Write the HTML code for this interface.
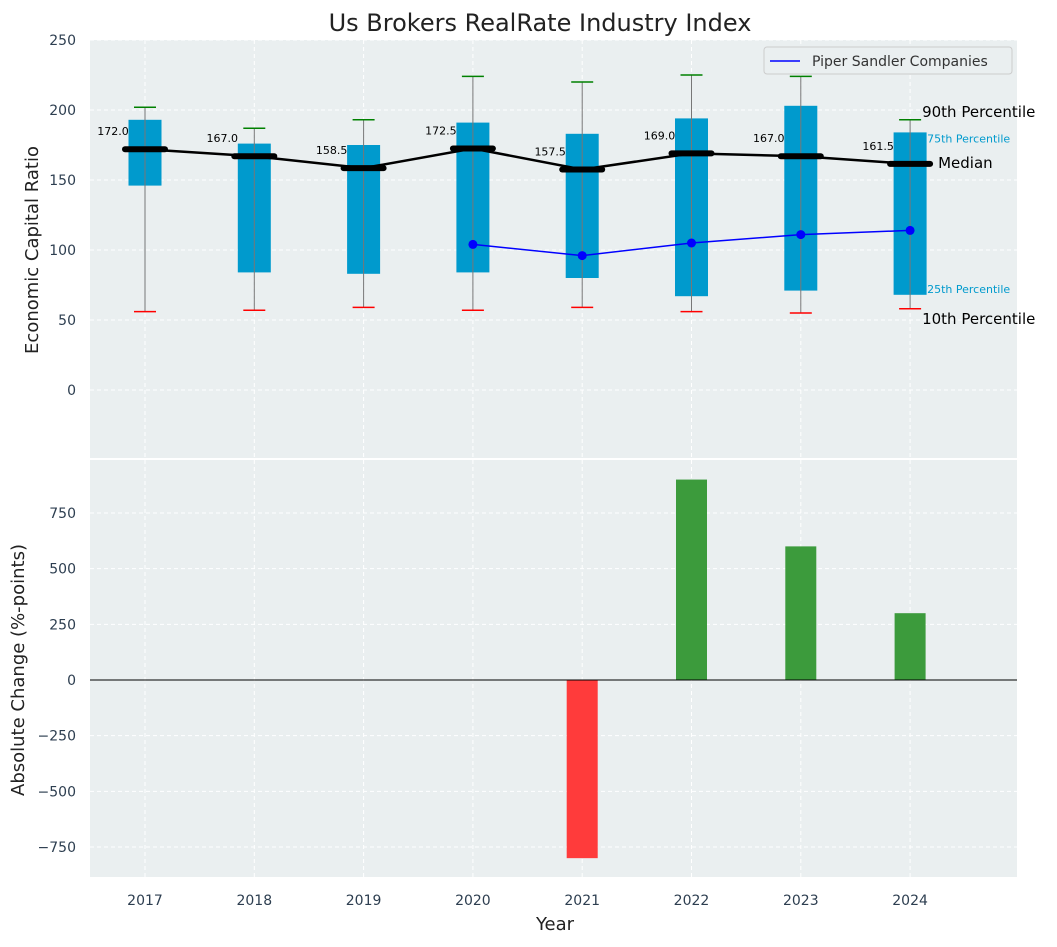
<!DOCTYPE html>
<html><head><meta charset="utf-8"><style>
body{margin:0;background:#fff;font-family:"Liberation Sans","DejaVu Sans",sans-serif}
svg text{font-family:"DejaVu Sans","Liberation Sans",sans-serif}
</style></head><body>
<svg id="c" width="1057" height="942" xmlns="http://www.w3.org/2000/svg"></svg>
<script>
const years=[2017,2018,2019,2020,2021,2022,2023,2024];
const p10=[56,57,59,57,59,56,55,58];
const q1=[146,84,83,84,80,67,71,68];
const medians=[172,167,158.5,172.5,157.5,169,167,161.5];
const q3=[193,176,175,191,183,194,203,184];
const p90=[202,187,193,224,220,225,224,193];
const piperYears=[2020,2021,2022,2023,2024];
const piperVals=[104,96,105,111,114];
const changeYears=[2021,2022,2023,2024];
const changeVals=[-800,900,600,300];
const topTicks=[0,50,100,150,200,250];
const botTicks=[-750,-500,-250,0,250,500,750];

const svg=document.getElementById('c');
const NS='http://www.w3.org/2000/svg';
function mk(t,a,txt){const e=document.createElementNS(NS,t);for(const k in a)e.setAttribute(k,a[k]);if(txt!==undefined)e.textContent=txt;svg.appendChild(e);return e;}
const L=90,R=1017;
const x=v=>145+(v-2017)*109.3;
const yT=v=>390-v*1.4;
const yB=v=>680-v*0.2227;

let e;
e=mk('rect',{x:L,y:40,width:R-L,height:418,fill:'#eaeff0'});

e=mk('rect',{x:L,y:460,width:R-L,height:417,fill:'#eaeff0'});


years.forEach(yr=>{
 mk('line',{x1:x(yr),x2:x(yr),y1:40,y2:458,stroke:'#fff','stroke-dasharray':'4,3'});
 mk('line',{x1:x(yr),x2:x(yr),y1:460,y2:877,stroke:'#fff','stroke-dasharray':'4,3'});
 e=mk('text',{x:x(yr),y:905,'text-anchor':'middle','font-size':14,fill:'#2d3e50'},yr);
 
});
topTicks.forEach(t=>{
 mk('line',{x1:L,x2:R,y1:yT(t),y2:yT(t),stroke:'#fff','stroke-dasharray':'4,3'});
 e=mk('text',{x:76,y:yT(t)+5,'text-anchor':'end','font-size':14,fill:'#2d3e50'},t);
 
});
botTicks.forEach(t=>{
 mk('line',{x1:L,x2:R,y1:yB(t),y2:yB(t),stroke:'#fff','stroke-dasharray':'4,3'});
 e=mk('text',{x:76,y:yB(t)+5,'text-anchor':'end','font-size':14,fill:'#2d3e50'},t.toString().replace('-','−'));
 
});

years.forEach((yr,i)=>{
 const cx=x(yr);
 e=mk('rect',{x:cx-16.5,y:yT(q3[i]),width:33,height:yT(q1[i])-yT(q3[i]),fill:'#009acd'});
 
 e=mk('line',{x1:cx,x2:cx,y1:yT(p10[i]),y2:yT(p90[i]),stroke:'#777','stroke-width':1});
 
 e=mk('line',{x1:cx-11,x2:cx+11,y1:yT(p90[i]),y2:yT(p90[i]),stroke:'green','stroke-width':1.5});
 
 e=mk('line',{x1:cx-11,x2:cx+11,y1:yT(p10[i]),y2:yT(p10[i]),stroke:'red','stroke-width':1.5});
 
});
e=mk('polyline',{points:years.map((yr,i)=>x(yr)+','+yT(medians[i])).join(' '),fill:'none',stroke:'#000','stroke-width':2.5});

years.forEach((yr,i)=>{
 e=mk('line',{x1:x(yr)-20,x2:x(yr)+20,y1:yT(medians[i]),y2:yT(medians[i]),stroke:'#000','stroke-width':6,'stroke-linecap':'round'});
 
 e=mk('text',{x:x(yr)-32,y:yT(medians[i])-14,'text-anchor':'middle','font-size':11,fill:'#000'},medians[i].toFixed(1));
 
});
e=mk('polyline',{points:piperYears.map((yr,i)=>x(yr)+','+yT(piperVals[i])).join(' '),fill:'none',stroke:'blue','stroke-width':1.5});

piperYears.forEach((yr,i)=>{
 e=mk('circle',{cx:x(yr),cy:yT(piperVals[i]),r:4.5,fill:'blue'});
 
});
const last=years.length-1,lx=x(years[last]);
[[p90[last],'90th Percentile',15,'#000',12,-8],[q3[last],'75th Percentile',11,'#009acd',17,5],[medians[last],'Median',15,'#000',28,-1],[q1[last],'25th Percentile',11,'#009acd',17,-7],[p10[last],'10th Percentile',15,'#000',12,10]].forEach(a=>{
 e=mk('text',{x:lx+a[4],y:yT(a[0])+a[5]+5,'font-size':a[2],fill:a[3]},a[1]);
 
});
e=mk('rect',{x:764,y:47,width:248,height:27,fill:'#eaeff0',stroke:'#ccc',rx:3});

mk('line',{x1:770,x2:800,y1:61,y2:61,stroke:'blue','stroke-width':1.5});
e=mk('text',{x:812,y:66,'font-size':14,fill:'#333'},'Piper Sandler Companies');


changeYears.forEach((yr,i)=>{
 const v=changeVals[i];
 e=mk('rect',{x:x(yr)-15.5,y:Math.min(yB(v),yB(0)),width:31,height:Math.abs(yB(v)-yB(0)),fill:v<0?'#ff3b3b':'#3c9b3c'});
 
});
mk('line',{x1:L,x2:R,y1:yB(0),y2:yB(0),stroke:'#000','stroke-width':1});

e=mk('text',{x:540,y:31,'text-anchor':'middle','font-size':24,fill:'#222'},'Us Brokers RealRate Industry Index');

e=mk('text',{x:555,y:930,'text-anchor':'middle','font-size':18,fill:'#222'},'Year');

e=mk('text',{x:38,y:250,'text-anchor':'middle','font-size':18,fill:'#222',transform:'rotate(-90 38 250)'},'Economic Capital Ratio');

e=mk('text',{x:24,y:670,'text-anchor':'middle','font-size':18,fill:'#222',transform:'rotate(-90 24 670)'},'Absolute Change (%-points)');

</script>
</body></html>
